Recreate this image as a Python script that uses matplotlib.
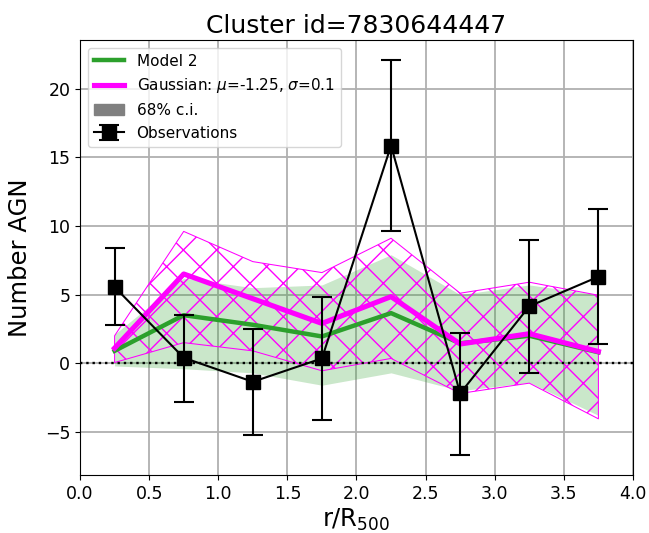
import numpy as np
import matplotlib
matplotlib.use("Agg")
import matplotlib.pyplot as plt
from matplotlib.patches import Patch

# radial bins (r/R500)
r_bins = [0.25, 0.75, 1.25, 1.75, 2.25, 2.75, 3.25, 3.75]

# observations
obs = [5.55, 0.4, -1.35, 0.35, 15.85, -2.2, 4.15, 6.3]
obs_lo = [2.75, 3.2, 3.85, 4.45, 6.25, 4.5, 4.85, 4.9]
obs_hi = [2.85, 3.1, 3.85, 4.45, 6.25, 4.4, 4.85, 4.9]

# Model 2 median and 68% band
model2 = [0.9, 3.5, 2.8, 1.95, 3.65, 1.45, 2.0, 0.8]
model2_lo = [-0.2, -0.4, -0.7, -1.6, -0.7, -2.0, -1.4, -3.8]
model2_hi = [2.1, 6.2, 5.5, 5.7, 7.9, 5.0, 5.7, 5.0]

# Gaussian model median and 68% band
gauss = [1.1, 6.5, 4.7, 2.9, 4.85, 1.4, 2.15, 0.85]
gauss_lo = [0.05, 1.5, 0.9, -0.55, 0.35, -2.2, -1.45, -4.05]
gauss_hi = [2.0, 9.6, 7.4, 6.6, 9.1, 5.1, 5.9, 4.95]

fig = plt.figure(figsize=(6.49, 5.33), dpi=100)
ax = fig.add_axes([0.1233, 0.1088, 0.852, 0.8162])

ax.grid(True, color='#b0b0b0', linewidth=1.3)
ax.set_axisbelow(True)

ax.fill_between(r_bins, model2_lo, model2_hi, color='tab:green', alpha=0.25,
                linewidth=0)
ax.fill_between(r_bins, gauss_lo, gauss_hi, facecolor='none',
                edgecolor='magenta', hatch='x', linewidth=0.75)
ax.plot(r_bins, model2, color='tab:green', lw=3.2, label='Model 2')
ax.plot(r_bins, gauss, color='magenta', lw=3.7,
        label=r'Gaussian: $\mu$=-1.25, $\sigma$=0.1')
ax.axhline(0, color='black', ls=':', lw=1.7)
ax.errorbar(r_bins, obs, yerr=[obs_lo, obs_hi], color='black', marker='s',
            ms=10, lw=1.5, elinewidth=1.5, capsize=7, capthick=1.5,
            label='Observations')

ax.set_xlim(0, 4)
ax.set_xticks(np.arange(0, 4.01, 0.5))
ax.tick_params(labelsize=12.5)

ax.set_title('Cluster id=7830644447', fontsize=18, pad=5)
ax.set_xlabel(r'r/R$_{500}$', fontsize=17.5, labelpad=2.6)
ax.set_ylabel('Number AGN', fontsize=17.5, labelpad=9)

h, l = ax.get_legend_handles_labels()
ci = Patch(color='gray', label='68% c.i.')
handles = [h[0], h[1], ci, h[2]]
labels = [l[0], l[1], '68% c.i.', l[2]]
ax.legend(handles, labels, loc='upper left', fontsize=11)

fig.savefig('out.png', dpi=100)
